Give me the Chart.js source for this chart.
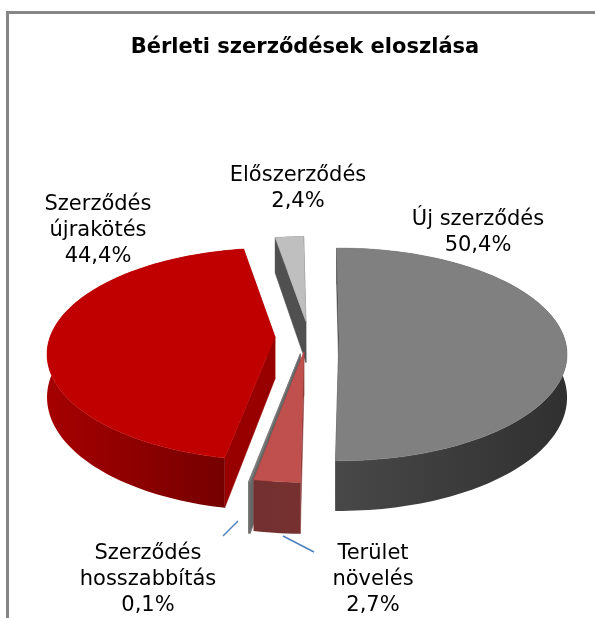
<!DOCTYPE html>
<html><head><meta charset="utf-8">
<style>html,body{margin:0;padding:0;background:#fff}canvas{display:block}</style>
<script src="https://cdn.jsdelivr.net/npm/chart.js@4/dist/chart.umd.js"></script>
</head><body><canvas id="c" width="595" height="618"></canvas>
<script>
const chartTitle = 'Bérleti szerződések eloszlása';
const categories = ['Új szerződés','Terület növelés','Szerződés hosszabbítás','Szerződés újrakötés','Előszerződés'];
const shares = [50.4,2.7,0.1,44.4,2.4];
const labelLines = [['Új szerződés'],['Terület','növelés'],['Szerződés','hosszabbítás'],['Szerződés','újrakötés'],['Előszerződés']];
const topColors = ['#808080','#c0504d','#7f7f7f','#c00000','#bfbfbf'];
const wallLeft = ['#484848','#733030','#6e6e6e','#a50000','#505050'];
const wallRight = ['#303030','#763030','#6e6e6e','#700000','#505050'];
const faceColors = ['#404040','#8c3a38','#666666','#980000','#505050'];
const explode = [32,32,36,30,35];
const nudgeX = [2,2,2,0,4];
const labelAnchors = [[478,220],[373,554],[148,554],[98,205],[298,176]];
const leaders = [[[283,536],[314,552]],[[223,536],[238,521]]];
const drawOrder = [4,3,0,2,1];

const TILT = 0.46, PERSP = 0.000724, DEPTH = 42, LINE = 25.7;

function project(el, i, r, angle, offset, z){
  const th = angle + Math.PI/2, mid = (el.startAngle + el.endAngle)/2 + Math.PI/2;
  const v = offset*Math.cos(mid) + r*Math.cos(th);
  const s = 1/(1 + PERSP*v);
  return [el.x + nudgeX[i] + offset*Math.sin(mid) + r*Math.sin(th)*s, el.y - v*TILT*s + z*s];
}
function poly(ctx, pts, fill){
  ctx.beginPath();
  pts.forEach((p,i)=> i ? ctx.lineTo(p[0],p[1]) : ctx.moveTo(p[0],p[1]));
  ctx.closePath(); ctx.fillStyle = fill; ctx.fill();
  ctx.strokeStyle = fill instanceof CanvasGradient ? 'rgba(0,0,0,0)' : fill; ctx.lineWidth = .5; ctx.stroke();
}
const pie3d = {
  id:'pie3d',
  beforeDraw(chart){
    const ctx = chart.ctx;
    ctx.save(); ctx.fillStyle='#fff'; ctx.fillRect(0,0,chart.width,chart.height);
    ctx.fillStyle='#868686'; ctx.fillRect(6,11,chart.width-6,3); ctx.fillRect(6,11,3,chart.height-11);
    ctx.restore();
  },
  beforeDatasetDraw(chart){
    const ctx = chart.ctx, arcs = chart.getDatasetMeta(0).data;
    ctx.save();
    drawOrder.forEach(i=>{
      const el = arcs[i], R = el.outerRadius, off = el.options.offset;
      const a0 = el.startAngle, a1 = el.endAngle, n = Math.max(2, Math.ceil((a1-a0)*40));
      const rimT = [], rimB = [];
      for(let k=0;k<=n;k++){ const a = a0+(a1-a0)*k/n; rimT.push(project(el,i,R,a,off,0)); rimB.push(project(el,i,R,a,off,DEPTH)); }
      const cT = project(el,i,0,a0,off,0), cB = project(el,i,0,a0,off,DEPTH);
      poly(ctx,[cT,rimT[0],rimB[0],cB],faceColors[i]);
      poly(ctx,[cT,rimT[n],rimB[n],cB],faceColors[i]);
      const xs = rimB.map(p=>p[0]), minX = Math.min(...xs), maxX = Math.max(...xs);
      const g = ctx.createLinearGradient(minX,0,Math.max(maxX,minX+1),0);
      g.addColorStop(0,wallLeft[i]); g.addColorStop(1,wallRight[i]);
      poly(ctx,rimT.concat(rimB.slice().reverse()),g);
      poly(ctx,[cT].concat(rimT),el.options.backgroundColor);
    });
    ctx.restore();
    return false;
  },
  afterDatasetsDraw(chart){
    const ctx = chart.ctx;
    ctx.save();
    ctx.strokeStyle='#4f81bd'; ctx.lineWidth=1.5;
    leaders.forEach(l=>{ctx.beginPath();ctx.moveTo(l[0][0],l[0][1]);ctx.lineTo(l[1][0],l[1][1]);ctx.stroke();});
    ctx.fillStyle='#000'; ctx.textAlign='center'; ctx.textBaseline='middle';
    ctx.font='21px "DejaVu Sans"';
    labelLines.forEach((lines,i)=>{
      const all = lines.concat([shares[i].toFixed(1).replace('.',',')+'%']);
      all.forEach((t,j)=>ctx.fillText(t,labelAnchors[i][0],labelAnchors[i][1]+j*LINE));
    });
    ctx.restore();
  }
};
new Chart(document.getElementById('c'),{
  type:'pie',
  data:{labels:categories,datasets:[{data:shares,backgroundColor:topColors,offset:explode,borderWidth:0,hoverOffset:0}]},
  options:{
    responsive:false,animation:false,radius:225,rotation:-0.7,
    layout:{padding:{left:60,right:45,top:35,bottom:56}},
    plugins:{
      legend:{display:false},tooltip:{enabled:false},
      title:{display:true,text:chartTitle,color:'#000',font:{family:'"DejaVu Sans"',size:21,weight:'bold'},padding:{top:0,bottom:52}}
    }
  },
  plugins:[pie3d]
});
</script></body></html>
